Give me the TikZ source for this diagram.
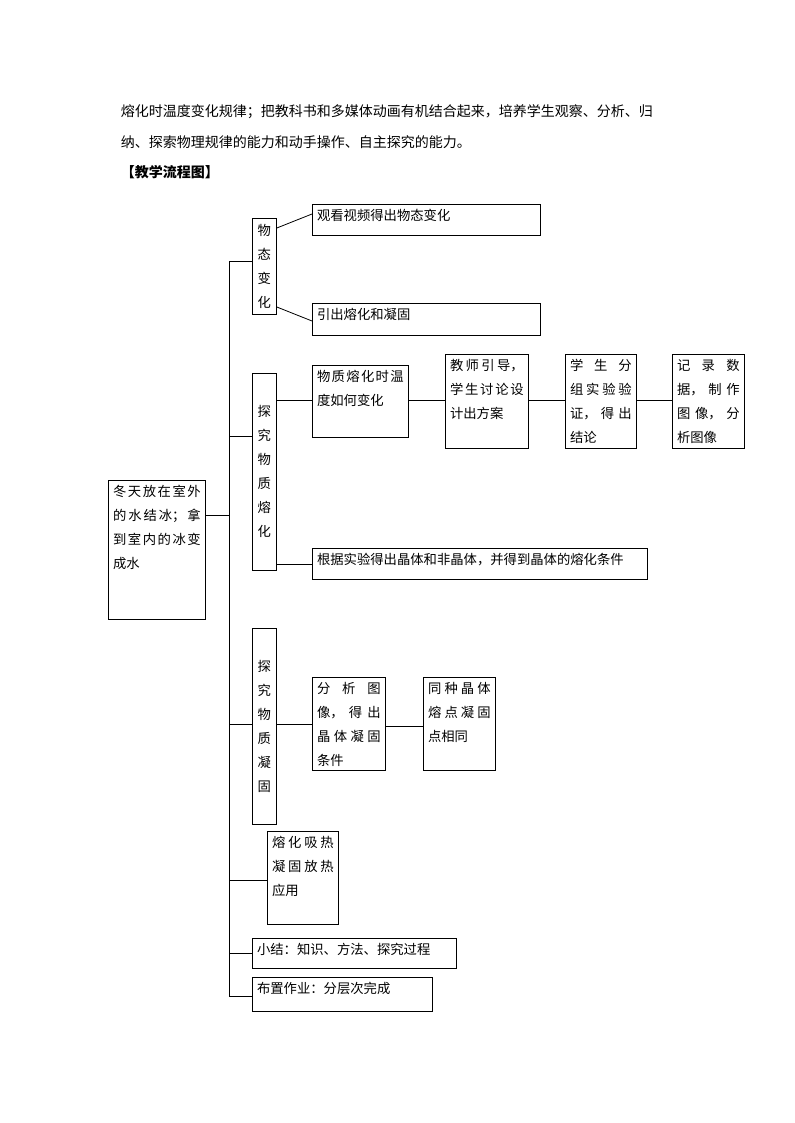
\documentclass[tikz,border=0pt]{standalone}
\usepackage{fontspec}
\newfontfamily\cjk{Noto Sans CJK SC}
\XeTeXlinebreaklocale "zh"
\XeTeXlinebreakskip=0pt plus 1pt
\usetikzlibrary{positioning}
\newcommand{\cellbox}[3]{\parbox[t][\dimexpr #2pt*3/4-7pt\relax][t]{\dimexpr #1pt*3/4-7pt\relax}{#3}}

\begin{document}
\begin{tikzpicture}[x=0.75pt, y=-0.75pt, line width=0.6pt,
box/.style={draw, anchor=north west, inner sep=3.5pt, font=\cjk\fontsize{10}{18}\selectfont},
vbox/.style={draw, anchor=north west, inner sep=0pt, align=center, font=\cjk\fontsize{10}{18}\selectfont, minimum width=18pt}]
\useasboundingbox (0,0) rectangle (794,1123);

\node [anchor=west, font=\cjk\fontsize{10.5}{12}\selectfont] (p1) at (116,112) {熔化时温度变化规律；把教科书和多媒体动画有机结合起来，培养学生观察、分析、归};
\node [anchor=west, font=\cjk\fontsize{10.5}{12}\selectfont] (p2) at (116,142) {纳、探索物理规律的能力和动手操作、自主探究的能力。};
\node [anchor=west, font=\cjk\bfseries\fontsize{10.5}{12}\selectfont] (p3) at (116,172) {【教学流程图】};

% root and branches
\node [box] (root) at (108,480) {\cellbox{97}{139}{冬天放在室外的水结冰；拿到室内的冰变成水}};
\node [vbox, minimum height=72pt] (wt) at (252,218) {物\\态\\变\\化};
\node [box] (wt1) at (312,204) {\cellbox{228}{31}{观看视频得出物态变化}};
\node [box] (wt2) at (312,303) {\cellbox{228}{32}{引出熔化和凝固}};

\node [vbox, minimum height=147.75pt] (rh) at (252,373) {探\\究\\物\\质\\熔\\化};
\node [box] (rh1) at (312,365) {\cellbox{96}{72}{物质熔化时温度如何变化}};
\node [box] (rh2) at (445,354) {\cellbox{83}{94}{教师引导，学生讨论设计出方案}};
\node [box] (rh3) at (565,354) {\cellbox{71}{94}{学生分组实验验证，得出结论}};
\node [box] (rh4) at (672,354) {\cellbox{72}{94}{记录数据，制作图像，分析图像}};
\node [box] (rh5) at (312,548) {\cellbox{335}{31}{根据实验得出晶体和非晶体，并得到晶体的熔化条件}};

\node [vbox, minimum height=147pt] (ng) at (252,628) {探\\究\\物\\质\\凝\\固};
\node [box] (ng1) at (312,677) {\cellbox{73}{93}{分析图像，得出晶体凝固条件}};
\node [box] (ng2) at (423,677) {\cellbox{72}{93}{同种晶体熔点凝固点相同}};

\node [box] (yy) at (267,831) {\cellbox{71}{93}{熔化吸热凝固放热应用}};
\node [box] (xj) at (252,938) {\cellbox{204}{30}{小结：知识、方法、探究过程}};
\node [box] (zy) at (252,977) {\cellbox{180}{34}{布置作业：分层次完成}};

% trunk
\coordinate (t0) at (229,515);
\coordinate (ta) at (229,261);
\coordinate (tb) at (229,996);
\draw (ta) -- (tb);
\draw (root.east |- t0) -- (t0);
\draw (ta) -- (wt.west |- ta);
\draw (rh.west |- 0,436) -- (229,436);
\draw (ng.west |- 0,724) -- (229,724);
\draw (yy.west |- 0,880) -- (229,880);
\draw (xj.west) -- (xj.west -| ta);
\draw (zy.west |- tb) -- (tb);

% leaves
\draw (wt.east |- 0,228) -- (wt1.west |- 0,214);
\draw (wt.east |- 0,307) -- (wt2.west |- 0,321);
\draw (rh.east |- 0,400) -- (rh1.west |- 0,400);
\draw (rh1.east |- 0,400) -- (rh2.west |- 0,400);
\draw (rh2.east |- 0,400) -- (rh3.west |- 0,400);
\draw (rh3.east |- 0,400) -- (rh4.west |- 0,400);
\draw (rh.east |- rh5.west) -- (rh5.west);
\draw (ng.east |- 0,724) -- (ng1.west |- 0,724);
\draw (ng1.east |- 0,726) -- (ng2.west |- 0,726);
\end{tikzpicture}
\end{document}
